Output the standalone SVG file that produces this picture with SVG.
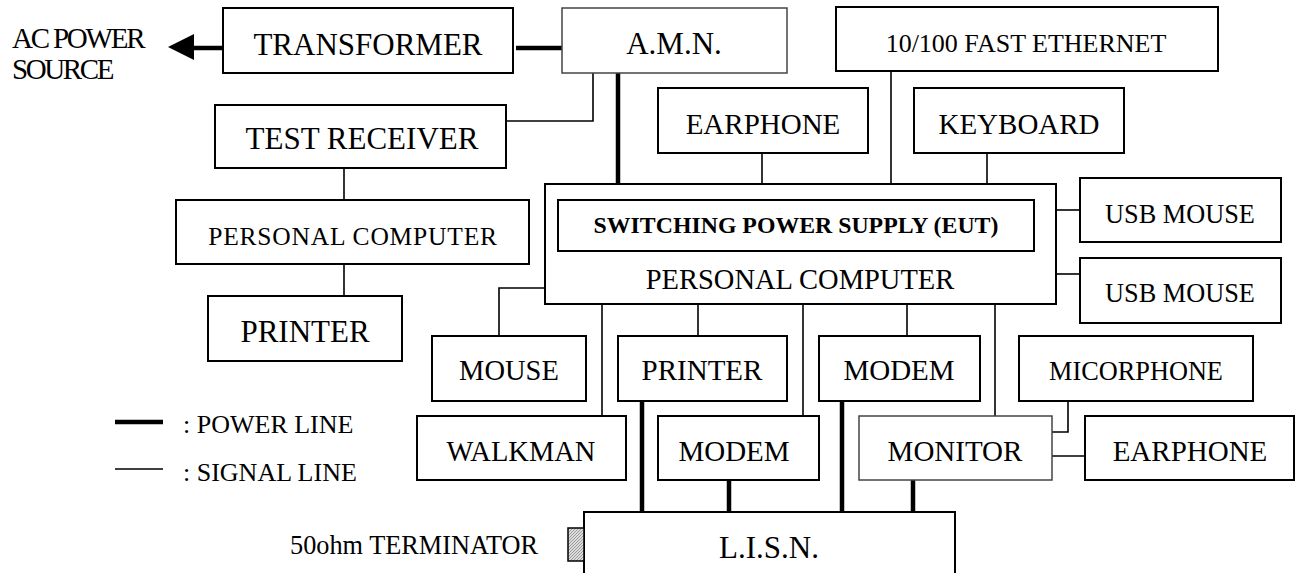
<svg xmlns="http://www.w3.org/2000/svg" width="1296" height="573" viewBox="0 0 1296 573">
<style>
.b{fill:#fff;stroke:#000;stroke-width:2}
.g{fill:#fff;stroke:#444;stroke-width:1.5}
.t{font-family:"Liberation Serif",serif;fill:#000;text-anchor:middle}
.s{fill:none;stroke:#000;stroke-width:1.6}
.p{fill:none;stroke:#000;stroke-width:4.5}
</style>
<defs>
<pattern id="hatch" width="3" height="3" patternUnits="userSpaceOnUse">
<rect width="3" height="3" fill="#ddd"/>
<path d="M0,3 L3,0" stroke="#888" stroke-width="0.8"/>
</pattern>
<marker id="arr" markerWidth="8" markerHeight="8" refX="0" refY="4" orient="auto" markerUnits="userSpaceOnUse">
<path d="M0,4 L8,0 L8,8 Z" fill="#000"/>
</marker>
</defs>

<g id="connectors">
<!-- power -->
<line class="p" x1="516" y1="48" x2="563" y2="48"/>
<line class="p" x1="194" y1="48" x2="223" y2="48"/>
<polygon points="168,47 194,34 194,60" fill="#000"/>
<line class="p" x1="618" y1="73" x2="618" y2="200"/>
<line class="p" x1="642" y1="401" x2="642" y2="512"/>
<line class="p" x1="729" y1="480" x2="729" y2="512"/>
<line class="p" x1="842" y1="401" x2="842" y2="512"/>
<line class="p" x1="913" y1="480" x2="913" y2="512"/>
<!-- signal -->
<polyline class="s" points="506,121 593,121 593,73"/>
<line class="s" x1="344" y1="168" x2="344" y2="200"/>
<line class="s" x1="344" y1="264" x2="344" y2="296"/>
<line class="s" x1="891" y1="71" x2="891" y2="184"/>
<line class="s" x1="762" y1="153" x2="762" y2="184"/>
<line class="s" x1="987" y1="153" x2="987" y2="184"/>
<line class="s" x1="1056" y1="210" x2="1080" y2="210"/>
<line class="s" x1="1056" y1="274" x2="1080" y2="274"/>
<polyline class="s" points="545,288 499,288 499,336"/>
<line class="s" x1="602" y1="304" x2="602" y2="416"/>
<line class="s" x1="698" y1="304" x2="698" y2="336"/>
<line class="s" x1="803" y1="304" x2="803" y2="416"/>
<line class="s" x1="907" y1="304" x2="907" y2="336"/>
<line class="s" x1="995" y1="304" x2="995" y2="416"/>
<polyline class="s" points="1068,401 1068,432 1052,432"/>
<line class="s" x1="1052" y1="456" x2="1085" y2="456"/>
</g>

<g id="ac-power-source">
<text font-family="Liberation Serif,serif" font-size="29" letter-spacing="-2.2" x="12" y="48">AC POWER</text>
<text font-family="Liberation Serif,serif" font-size="29" letter-spacing="-2.4" x="12" y="79">SOURCE</text>
</g>

<g id="transformer"><rect class="b" x="223" y="8" width="290" height="65"/><text class="t" font-size="31" x="368" y="55">TRANSFORMER</text></g>
<g id="amn"><rect class="g" x="562" y="8" width="225" height="65"/><text class="t" font-size="31" x="674" y="54">A.M.N.</text></g>
<g id="ethernet"><rect class="b" x="836" y="7" width="382" height="64"/><text class="t" font-size="26" x="1026" y="52">10/100 FAST ETHERNET</text></g>
<g id="test-receiver"><rect class="b" x="215" y="105" width="291" height="63"/><text class="t" font-size="31" x="362" y="149">TEST RECEIVER</text></g>
<g id="earphone-top"><rect class="b" x="658" y="88" width="210" height="65"/><text class="t" font-size="29" x="763" y="134">EARPHONE</text></g>
<g id="keyboard"><rect class="b" x="914" y="88" width="210" height="65"/><text class="t" font-size="29" x="1019" y="134">KEYBOARD</text></g>

<g id="pc-left"><rect class="b" x="176" y="200" width="353" height="64"/><text class="t" font-size="25.5" letter-spacing="0.8" x="353" y="245">PERSONAL COMPUTER</text></g>
<g id="printer-left"><rect class="b" x="208" y="296" width="194" height="65"/><text class="t" font-size="31" x="305" y="342">PRINTER</text></g>

<g id="pc-main">
<rect class="b" x="545" y="184" width="511" height="120"/>
<text class="t" font-size="28.5" x="800" y="289">PERSONAL COMPUTER</text>
</g>
<g id="switching-power-supply">
<rect class="b" x="558" y="200" width="476" height="51"/>
<text class="t" font-size="23.8" font-weight="bold" x="796" y="233">SWITCHING POWER SUPPLY (EUT)</text>
</g>

<g id="usb-mouse-1"><rect class="b" x="1080" y="178" width="201" height="64"/><text class="t" font-size="26.3" x="1180" y="223">USB MOUSE</text></g>
<g id="usb-mouse-2"><rect class="b" x="1080" y="258" width="201" height="65"/><text class="t" font-size="26.3" x="1180" y="302">USB MOUSE</text></g>

<g id="mouse"><rect class="b" x="432" y="336" width="154" height="65"/><text class="t" font-size="28.5" x="509" y="380">MOUSE</text></g>
<g id="printer-mid"><rect class="b" x="618" y="336" width="169" height="65"/><text class="t" font-size="29" x="702" y="380">PRINTER</text></g>
<g id="modem-top"><rect class="b" x="819" y="336" width="161" height="65"/><text class="t" font-size="29" x="899" y="380">MODEM</text></g>
<g id="micorphone"><rect class="b" x="1019" y="336" width="234" height="65"/><text class="t" font-size="26.3" x="1136" y="380">MICORPHONE</text></g>

<g id="walkman"><rect class="b" x="417" y="416" width="209" height="64"/><text class="t" font-size="28.5" x="521" y="461">WALKMAN</text></g>
<g id="modem-bottom"><rect class="b" x="658" y="416" width="161" height="64"/><text class="t" font-size="29" x="734" y="461">MODEM</text></g>
<g id="monitor"><rect class="g" x="859" y="416" width="193" height="64"/><text class="t" font-size="29" x="955" y="461">MONITOR</text></g>
<g id="earphone-right"><rect class="b" x="1085" y="416" width="209" height="64"/><text class="t" font-size="29" x="1190" y="461">EARPHONE</text></g>

<g id="lisn">
<rect class="b" x="584" y="512" width="371" height="70"/>
<text class="t" font-size="31" x="769" y="558">L.I.S.N.</text>
</g>
<g id="terminator">
<rect x="568" y="528" width="16" height="33" fill="url(#hatch)" stroke="#000" stroke-width="1.5"/>
<text font-family="Liberation Serif,serif" font-size="26.3" x="290" y="554">50ohm TERMINATOR</text>
</g>

<g id="legend">
<line x1="115" y1="422" x2="163" y2="422" stroke="#000" stroke-width="4.5"/>
<text font-family="Liberation Serif,serif" font-size="26" x="183" y="433">: POWER LINE</text>
<line x1="115" y1="469" x2="163" y2="469" stroke="#000" stroke-width="1.6"/>
<text font-family="Liberation Serif,serif" font-size="26" x="183" y="481">: SIGNAL LINE</text>
</g>
</svg>
